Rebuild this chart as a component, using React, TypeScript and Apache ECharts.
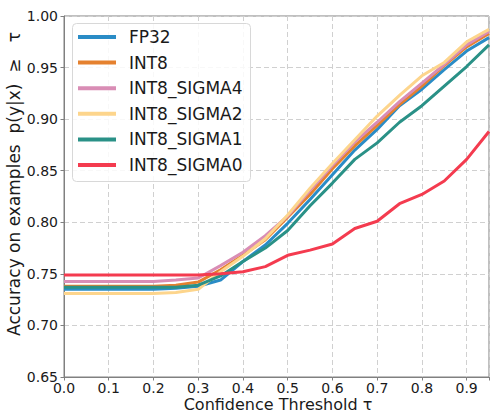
import React, { useEffect, useRef } from "react";
import * as echarts from "echarts";

const thresholds = [0, 0.05, 0.1, 0.15, 0.2, 0.25, 0.3, 0.35, 0.4, 0.45, 0.5, 0.55, 0.6, 0.65, 0.7, 0.75, 0.8, 0.85, 0.9, 0.95];

const fp32 = [0.735, 0.735, 0.735, 0.735, 0.735, 0.736, 0.738, 0.744, 0.762, 0.778, 0.799, 0.822, 0.846, 0.870, 0.890, 0.913, 0.929, 0.948, 0.966, 0.979];
const int8 = [0.738, 0.738, 0.738, 0.738, 0.738, 0.739, 0.742, 0.754, 0.768, 0.783, 0.805, 0.827, 0.852, 0.874, 0.894, 0.914, 0.932, 0.952, 0.970, 0.983];
const int8Sigma4 = [0.7425, 0.7425, 0.7425, 0.7425, 0.7425, 0.744, 0.746, 0.758, 0.771, 0.787, 0.806, 0.831, 0.855, 0.878, 0.897, 0.917, 0.935, 0.953, 0.972, 0.985];
const int8Sigma2 = [0.731, 0.731, 0.731, 0.731, 0.731, 0.732, 0.735, 0.752, 0.767, 0.784, 0.807, 0.833, 0.857, 0.880, 0.903, 0.923, 0.942, 0.955, 0.975, 0.987];
const int8Sigma1 = [0.737, 0.737, 0.737, 0.737, 0.737, 0.737, 0.739, 0.748, 0.762, 0.775, 0.792, 0.816, 0.838, 0.861, 0.877, 0.897, 0.913, 0.932, 0.951, 0.972];
const int8Sigma0 = [0.749, 0.749, 0.749, 0.749, 0.749, 0.749, 0.749, 0.750, 0.752, 0.757, 0.768, 0.773, 0.779, 0.794, 0.801, 0.818, 0.827, 0.840, 0.861, 0.888];

const seriesNames = ["FP32", "INT8", "INT8_SIGMA4", "INT8_SIGMA2", "INT8_SIGMA1", "INT8_SIGMA0"];
const seriesValues = [fp32, int8, int8Sigma4, int8Sigma2, int8Sigma1, int8Sigma0];
const seriesColors = ["#2a8cc6", "#e5812f", "#d98db5", "#fdd58c", "#2a9187", "#f43b4f"];

const xLabel = "Confidence Threshold τ";
const yLabel = "Accuracy on examples  p(y|x)  ≥   τ";

const FONT = "DejaVu Sans";
const TEXT = "#1a1a1a";
const SPINE = "#808080";

export default function App() {
  const ref = useRef<HTMLDivElement>(null);

  useEffect(() => {
    document.body.style.margin = "0";
    if (!ref.current) return;
    const chart = echarts.init(ref.current, undefined, { renderer: "svg" });
    const option: any = {
      animation: false,
      textStyle: { fontFamily: FONT },
      grid: {
        left: 64,
        top: 16,
        width: 429,
        height: 361,
        show: true,
        borderColor: SPINE,
        borderWidth: 1,
        backgroundColor: "transparent",
      },
      xAxis: {
        type: "value",
        min: 0,
        max: 0.95,
        interval: 0.1,
        axisLine: { show: true, lineStyle: { color: SPINE, width: 1 } },
        axisTick: { show: true, length: 3.5, lineStyle: { color: SPINE } },
        axisLabel: {
          color: TEXT,
          fontSize: 14,
          fontFamily: FONT,
          margin: 4,
          formatter: (v: number) => (v > 0.94 ? "" : v.toFixed(1)),
        },
        splitLine: { show: true, lineStyle: { color: "#d0d0d0", width: 1, type: [5, 3] } },
      },
      yAxis: {
        type: "value",
        min: 0.65,
        max: 1.0,
        interval: 0.05,
        axisLine: { show: true, lineStyle: { color: SPINE, width: 1 } },
        axisTick: { show: true, length: 3.5, lineStyle: { color: SPINE } },
        axisLabel: {
          color: TEXT,
          fontSize: 14,
          fontFamily: FONT,
          margin: 6,
          formatter: (v: number) => v.toFixed(2),
        },
        splitLine: { show: true, lineStyle: { color: "#d0d0d0", width: 1, type: [5, 3] } },
      },
      legend: {
        show: true,
        orient: "vertical",
        left: 72,
        top: 23,
        padding: [3, 8, 8, 6],
        backgroundColor: "transparent",
        borderWidth: 0,
        icon: "rect",
        itemWidth: 38,
        itemHeight: 4,
        itemGap: 3.6,
        z: 5,
        textStyle: {
          fontSize: 17,
          fontFamily: FONT,
          color: TEXT,
          lineHeight: 22,
          padding: [0, 0, 0, 8],
        },
        data: seriesNames,
      },
      graphic: [
        {
          type: "rect",
          z: 4,
          shape: { x: 72.5, y: 23.5, width: 178, height: 158, r: 4 },
          style: { fill: "rgba(255,255,255,0.85)", stroke: "#d8d8d8", lineWidth: 1 },
        },
        {
          type: "text",
          x: 278,
          y: 404.5,
          style: {
            text: xLabel,
            fontSize: 16,
            fontFamily: FONT,
            fill: TEXT,
            textAlign: "center",
            textVerticalAlign: "middle",
          },
        },
        {
          type: "text",
          x: 13.5,
          y: 184,
          rotation: Math.PI / 2,
          style: {
            text: yLabel,
            fontSize: 17,
            fontFamily: FONT,
            fill: TEXT,
            textAlign: "center",
            textVerticalAlign: "middle",
          },
        },
      ],
      series: seriesNames.map((name, i) => ({
        name,
        type: "line",
        data: thresholds.map((t, j) => [t, seriesValues[i][j]]),
        showSymbol: false,
        symbol: "none",
        lineStyle: { width: 3, color: seriesColors[i] },
        itemStyle: { color: seriesColors[i] },
        z: 2 + i,
      })),
    };
    chart.setOption(option);
    return () => chart.dispose();
  }, []);

  return <div ref={ref} style={{ width: 492, height: 413 }} />;
}
